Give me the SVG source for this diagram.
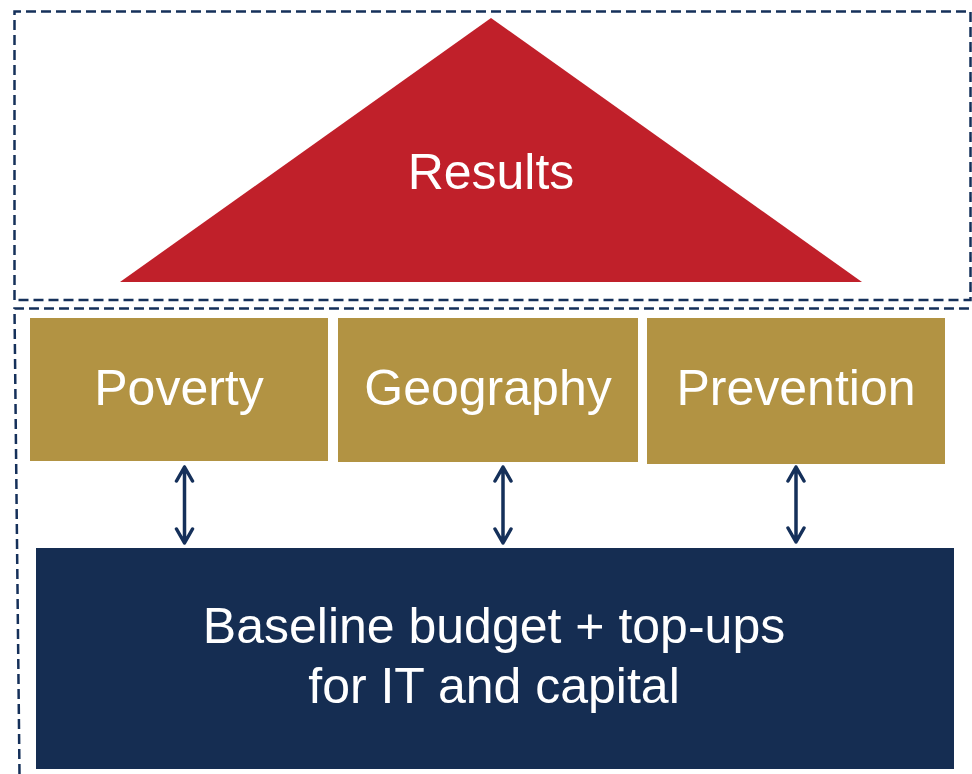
<svg xmlns="http://www.w3.org/2000/svg" width="972" height="774" viewBox="0 0 972 774">
  <defs>
    <style>
      .frame { fill: none; stroke: #15305a; stroke-width: 2.5; stroke-dasharray: 10 5; }
      .pillar { fill: #b29343; }
      .lbl { font-family: "Liberation Sans", Arial, sans-serif; font-size: 50px; fill: #ffffff; text-anchor: middle; }
      .conn { stroke: #15305a; stroke-width: 3.5; fill: none; stroke-linecap: round; stroke-linejoin: round; }
    </style>
  </defs>
  <rect width="972" height="774" fill="#ffffff"/>

  <g id="frame-top">
    <path class="frame" d="M14.5 300 L14.5 11.5 L970.5 11.5 L970.5 300 Z"/>
  </g>
  <g id="frame-bottom">
    <path class="frame" d="M19.5 774 L14.5 308.5 L972 308.5"/>
  </g>

  <g id="results">
    <polygon points="491,18 862,282 120,282" fill="#c0202a"/>
    <text class="lbl" x="491" y="189">Results</text>
  </g>

  <g id="poverty">
    <rect class="pillar" x="30" y="318" width="298" height="143"/>
    <text class="lbl" x="179" y="405">Poverty</text>
  </g>
  <g id="geography">
    <rect class="pillar" x="338" y="318" width="300" height="144"/>
    <text class="lbl" x="488" y="405">Geography</text>
  </g>
  <g id="prevention">
    <rect class="pillar" x="647" y="318" width="298" height="146"/>
    <text class="lbl" x="796" y="405">Prevention</text>
  </g>

  <g id="baseline">
    <rect x="36" y="548" width="918" height="221" fill="#152d52"/>
    <text class="lbl" x="494" y="643">Baseline budget + top-ups</text>
    <text class="lbl" x="494" y="703">for IT and capital</text>
  </g>

  <g id="connectors" class="conn">
    <path d="M184.5 467 L184.5 543 M176.5 481 L184.5 467 L192.5 481 M176.5 529 L184.5 543 L192.5 529"/>
    <path d="M503 467 L503 543 M495 481 L503 467 L511 481 M495 529 L503 543 L511 529"/>
    <path d="M796 467 L796 542 M788 481 L796 467 L804 481 M788 528 L796 542 L804 528"/>
  </g>
</svg>
